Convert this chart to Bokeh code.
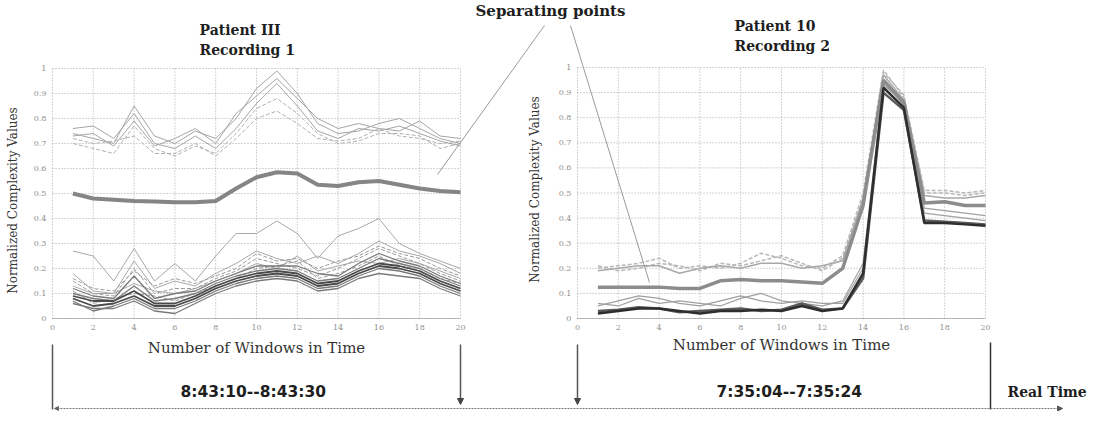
from bokeh.plotting import figure
from bokeh.models import Range1d, Label, Arrow, NormalHead
from bokeh.embed import file_html
from bokeh.resources import INLINE
from bokeh.core.properties import value

# ---------------- data ----------------
windows = [1, 2, 3, 4, 5, 6, 7, 8, 9, 10, 11, 12, 13, 14, 15, 16, 17, 18, 19, 20]
x_ticks = [0, 2, 4, 6, 8, 10, 12, 14, 16, 18, 20]
x_tick_labels = ["0", "2", "4", "6", "8", "10", "12", "14", "16", "18", "20"]
y_ticks = [0.0, 0.1, 0.2, 0.3, 0.4, 0.5, 0.6, 0.7, 0.8, 0.9, 1.0]
y_tick_labels = ["0", "0.1", "0.2", "0.3", "0.4", "0.5", "0.6", "0.7", "0.8", "0.9", "1"]

# Patient III, recording 1
p3_thick = [0.50, 0.48, 0.475, 0.47, 0.468, 0.465, 0.465, 0.47, 0.52, 0.565,
            0.585, 0.58, 0.535, 0.53, 0.545, 0.55, 0.535, 0.52, 0.51, 0.505]
p3_upper_1 = [0.74, 0.72, 0.70, 0.85, 0.73, 0.70, 0.75, 0.72, 0.80, 0.92, 0.99, 0.90, 0.78, 0.74, 0.75, 0.78, 0.80, 0.76, 0.72, 0.70]
p3_upper_2 = [0.72, 0.70, 0.71, 0.73, 0.66, 0.66, 0.70, 0.65, 0.72, 0.80, 0.83, 0.78, 0.72, 0.71, 0.72, 0.76, 0.73, 0.72, 0.70, 0.71]
p3_upper_3 = [0.76, 0.77, 0.72, 0.82, 0.70, 0.68, 0.73, 0.68, 0.76, 0.86, 0.94, 0.85, 0.75, 0.72, 0.76, 0.75, 0.77, 0.74, 0.71, 0.69]
p3_upper_4 = [0.70, 0.68, 0.66, 0.77, 0.68, 0.65, 0.69, 0.66, 0.74, 0.84, 0.88, 0.82, 0.74, 0.70, 0.71, 0.74, 0.74, 0.73, 0.68, 0.70]
p3_upper_5 = [0.73, 0.74, 0.69, 0.79, 0.69, 0.72, 0.76, 0.70, 0.82, 0.89, 0.96, 0.88, 0.80, 0.76, 0.78, 0.76, 0.75, 0.79, 0.73, 0.72]
p3_lower_1 = [0.27, 0.25, 0.15, 0.28, 0.15, 0.22, 0.15, 0.25, 0.34, 0.34, 0.39, 0.34, 0.24, 0.33, 0.36, 0.40, 0.30, 0.26, 0.23, 0.20]
p3_lower_2 = [0.18, 0.11, 0.10, 0.23, 0.12, 0.15, 0.13, 0.18, 0.22, 0.27, 0.24, 0.22, 0.25, 0.22, 0.26, 0.31, 0.27, 0.25, 0.22, 0.18]
p3_lower_3 = [0.15, 0.10, 0.09, 0.20, 0.10, 0.12, 0.12, 0.16, 0.19, 0.24, 0.22, 0.20, 0.17, 0.20, 0.24, 0.28, 0.25, 0.22, 0.18, 0.15]
p3_lower_4 = [0.12, 0.09, 0.08, 0.17, 0.08, 0.10, 0.11, 0.15, 0.18, 0.21, 0.21, 0.21, 0.18, 0.17, 0.22, 0.26, 0.23, 0.21, 0.17, 0.14]
p3_lower_5 = [0.10, 0.08, 0.07, 0.13, 0.07, 0.08, 0.10, 0.14, 0.17, 0.19, 0.20, 0.19, 0.15, 0.16, 0.20, 0.24, 0.22, 0.20, 0.16, 0.13]
p3_lower_6 = [0.09, 0.07, 0.07, 0.11, 0.06, 0.06, 0.09, 0.13, 0.16, 0.18, 0.19, 0.18, 0.14, 0.15, 0.19, 0.22, 0.21, 0.19, 0.15, 0.12]
p3_lower_7 = [0.08, 0.05, 0.06, 0.09, 0.05, 0.05, 0.08, 0.12, 0.15, 0.17, 0.18, 0.17, 0.13, 0.14, 0.18, 0.21, 0.20, 0.18, 0.14, 0.11]
p3_lower_8 = [0.07, 0.03, 0.05, 0.08, 0.04, 0.04, 0.07, 0.11, 0.14, 0.16, 0.17, 0.16, 0.12, 0.13, 0.17, 0.20, 0.19, 0.17, 0.13, 0.10]
p3_lower_9 = [0.11, 0.06, 0.08, 0.10, 0.09, 0.07, 0.10, 0.13, 0.16, 0.20, 0.21, 0.23, 0.16, 0.18, 0.21, 0.25, 0.21, 0.20, 0.16, 0.14]
p3_lower_10 = [0.13, 0.10, 0.10, 0.14, 0.11, 0.10, 0.12, 0.15, 0.18, 0.22, 0.20, 0.25, 0.19, 0.21, 0.23, 0.22, 0.24, 0.22, 0.19, 0.16]
p3_lower_11 = [0.06, 0.04, 0.04, 0.07, 0.03, 0.02, 0.06, 0.10, 0.13, 0.15, 0.16, 0.15, 0.11, 0.12, 0.16, 0.18, 0.17, 0.16, 0.12, 0.09]
p3_lower_12 = [0.16, 0.12, 0.11, 0.19, 0.13, 0.16, 0.14, 0.17, 0.20, 0.26, 0.23, 0.24, 0.20, 0.23, 0.25, 0.29, 0.26, 0.24, 0.20, 0.17]

# Patient 10, recording 2
p10_dark_1 = [0.02, 0.03, 0.04, 0.04, 0.03, 0.02, 0.03, 0.03, 0.035, 0.03, 0.05, 0.03, 0.04, 0.18, 0.92, 0.84, 0.38, 0.38, 0.375, 0.37]
p10_dark_2 = [0.03, 0.035, 0.045, 0.04, 0.025, 0.03, 0.035, 0.04, 0.03, 0.035, 0.06, 0.035, 0.04, 0.16, 0.90, 0.83, 0.39, 0.385, 0.38, 0.375]
p10_thin_1 = [0.06, 0.05, 0.08, 0.06, 0.07, 0.06, 0.05, 0.08, 0.10, 0.07, 0.06, 0.05, 0.07, 0.22, 0.94, 0.85, 0.42, 0.41, 0.40, 0.39]
p10_thin_2 = [0.05, 0.07, 0.09, 0.08, 0.06, 0.05, 0.07, 0.09, 0.07, 0.06, 0.07, 0.06, 0.06, 0.20, 0.93, 0.86, 0.44, 0.43, 0.42, 0.41]
p10_thick = [0.125, 0.125, 0.125, 0.125, 0.12, 0.12, 0.15, 0.155, 0.15, 0.15, 0.145, 0.14, 0.20, 0.45, 0.95, 0.86, 0.46, 0.465, 0.45, 0.45]
p10_light_1 = [0.20, 0.21, 0.22, 0.24, 0.20, 0.21, 0.20, 0.22, 0.26, 0.24, 0.21, 0.20, 0.25, 0.50, 0.99, 0.88, 0.50, 0.50, 0.49, 0.50]
p10_light_2 = [0.19, 0.20, 0.21, 0.21, 0.18, 0.20, 0.21, 0.20, 0.22, 0.22, 0.20, 0.21, 0.23, 0.48, 0.97, 0.87, 0.49, 0.48, 0.48, 0.49]
p10_light_3 = [0.21, 0.19, 0.20, 0.22, 0.21, 0.19, 0.22, 0.21, 0.23, 0.25, 0.22, 0.19, 0.24, 0.47, 0.98, 0.89, 0.51, 0.51, 0.50, 0.51]

# ---------------- canvas ----------------
W, H = 1087, 411
p = figure(width=W, height=H, x_range=Range1d(0, W), y_range=Range1d(H, 0),
           toolbar_location=None, output_backend="svg", min_border=0,
           x_axis_location=None, y_axis_location=None)
p.grid.visible = False
p.outline_line_color = None

SERIF = "DejaVu Serif"
SANS = "DejaVu Sans"

def panel(x0, x1, y0, y1):
    sub = p.subplot(x_source=Range1d(0, 20), y_source=Range1d(0, 1),
                    x_target=Range1d(x0, x1), y_target=Range1d(y0, y1))
    # grid + box (dotted)
    sub.segment(x0=x_ticks, y0=0, x1=x_ticks, y1=1, line_color="#a8a8a8",
                line_dash="1 2", line_width=1)
    sub.segment(x0=0, y0=y_ticks, x1=20, y1=y_ticks, line_color="#a8a8a8",
                line_dash="1 2", line_width=1)
    sub.segment(x0=0, y0=0, x1=20, y1=0, line_color="#8a8a8a", line_dash="1 1", line_width=1)
    sub.text(x=x_ticks, y=-0.036, text=x_tick_labels, text_font=value(SERIF),
             text_font_size="8px", text_color="#8f8f8f", text_align="center",
             text_baseline="middle")
    sub.text(x=-0.3, y=y_ticks, text=y_tick_labels, text_font=value(SERIF),
             text_font_size="8px", text_color="#8f8f8f", text_align="right",
             text_baseline="middle")
    return sub

left = panel(52, 460, 318, 68)
right = panel(577, 985, 318, 67)

# left panel lines
for vals in [p3_upper_1, p3_upper_3, p3_upper_5]:
    left.line(windows, vals, line_color="#a5a5a5", line_width=1)
for vals in [p3_upper_2, p3_upper_4]:
    left.line(windows, vals, line_color="#b0b0b0", line_width=1, line_dash="4 2")
for vals in [p3_lower_1, p3_lower_2, p3_lower_10]:
    left.line(windows, vals, line_color="#a8a8a8", line_width=1)
for vals in [p3_lower_3, p3_lower_12, p3_lower_9]:
    left.line(windows, vals, line_color="#9a9a9a", line_width=1, line_dash="4 2")
for vals in [p3_lower_4, p3_lower_5, p3_lower_8, p3_lower_11]:
    left.line(windows, vals, line_color="#7a7a7a", line_width=1.3)
for vals in [p3_lower_6, p3_lower_7]:
    left.line(windows, vals, line_color="#4a4a4a", line_width=1.8)
left.line(windows, p3_thick, line_color="#858585", line_width=4)

# right panel lines
for vals in [p10_light_1, p10_light_3]:
    right.line(windows, vals, line_color="#b8b8b8", line_width=1.5, line_dash="4 2")
right.line(windows, p10_light_2, line_color="#a8a8a8", line_width=1.5)
for vals in [p10_thin_1, p10_thin_2]:
    right.line(windows, vals, line_color="#a0a0a0", line_width=1.2)
right.line(windows, p10_thick, line_color="#8c8c8c", line_width=3.5)
right.line(windows, p10_dark_2, line_color="#5a5a5a", line_width=2.5)
right.line(windows, p10_dark_1, line_color="#2e2e2e", line_width=2.5)

# ---------------- texts ----------------
def txt(x, y, s, size, font=SERIF, style="bold", align="left", color="#1e1e1e", angle=0):
    p.add_layout(Label(x=x, y=y, text=s, text_font=font, text_font_size=size,
                       text_font_style=style, text_align=align, text_baseline="middle",
                       text_color=color, angle=angle, angle_units="deg"))

txt(199, 29, "Patient III", "14px")
txt(199, 49, "Recording 1", "14px")
txt(734, 25, "Patient 10", "14px")
txt(734, 45, "Recording 2", "14px")
txt(475, 10, "Separating points", "15px")
txt(256, 347, "Number of Windows in Time", "15px", style="normal", align="center", color="#333333")
txt(781, 344, "Number of Windows in Time", "15px", style="normal", align="center", color="#333333")
txt(12, 200, "Normalized Complexity Values", "12px", style="normal", align="center", color="#333333", angle=90)
txt(534, 189, "Normalized Complexity Values", "12px", style="normal", align="center", color="#333333", angle=90)
txt(180, 391, "8:43:10--8:43:30", "15.5px", font=SANS)
txt(716, 391, "7:35:04--7:35:24", "15.5px", font=SANS)
txt(1007, 391, "Real Time", "14px")

# separating-point pointers
p.add_layout(Arrow(x_start=544, y_start=25, x_end=437, y_end=174, end=None,
                   line_color="#9a9a9a", line_width=1))
p.add_layout(Arrow(x_start=570, y_start=25, x_end=649, y_end=282, end=None,
                   line_color="#9a9a9a", line_width=1))

# time-span markers
p.add_layout(Arrow(x_start=52, y_start=344, x_end=52, y_end=409, end=None,
                   line_color="#555555", line_width=1.5))
p.add_layout(Arrow(x_start=990, y_start=342, x_end=990, y_end=409, end=None,
                   line_color="#333333", line_width=1.5))
for xx in [460, 577]:
    p.add_layout(Arrow(x_start=xx, y_start=344, x_end=xx, y_end=404,
                       end=NormalHead(size=6, fill_color="#444444", line_color="#444444"),
                       line_color="#555555", line_width=1.5))
p.add_layout(Arrow(x_start=54, y_start=408, x_end=1062, y_end=408,
                   start=NormalHead(size=4, fill_color="#666666", line_color="#666666"),
                   end=NormalHead(size=5, fill_color="#555555", line_color="#555555"),
                   line_color="#777777", line_width=1, line_dash="2 1"))

open("out.html", "w").write(file_html(p, INLINE))
